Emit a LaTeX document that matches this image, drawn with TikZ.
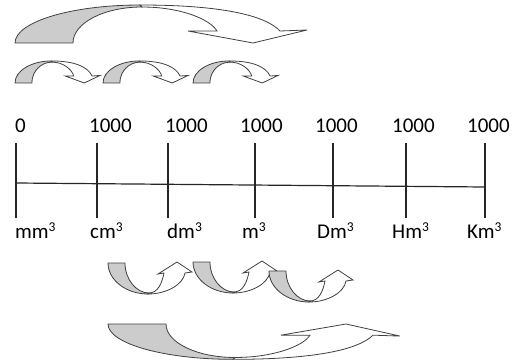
\documentclass[tikz,border=0pt]{standalone}
\usepackage{fontspec}
\setmainfont{Carlito}
\tikzset{
  arrowline/.style={draw=black!75, line width=0.8pt, line join=miter},
  greypart/.style={arrowline, fill=gray!40},
  whitepart/.style={arrowline, fill=white},
  tickline/.style={draw=black!85, line width=1.2pt},
  lbl/.style={font=\fontsize{21}{25}\selectfont, inner sep=0pt, anchor=base west, text=black}
}
\newcommand{\cubx}{\raisebox{0.3em}{\fontsize{13.5}{14}\selectfont 3}}
% curved arrow, template in picture units (y downward)
\newcommand{\crvArrowBig}{%
  \path[greypart] (0,0) -- (58,0) .. controls (58,-20) and (89,-36) .. (127,-36)
     -- (125,-38) .. controls (56,-38) and (0,-21) .. (0,0) -- cycle;
  \path[whitepart] (125,-38) .. controls (205,-38) and (250,-28) .. (265,-12)
     -- (292,-13) -- (238,0) -- (173,-12) -- (202,-12)
     .. controls (195,-24) and (165,-36) .. (127,-36) -- cycle;
}
\newcommand{\crvArrowU}{%
  \path[greypart] (0,0) -- (17,0) .. controls (17,16) and (28,30) .. (41,30)
     -- (40,31) .. controls (18,31) and (0,17) .. (0,0) -- cycle;
  \path[whitepart] (40,31) .. controls (58,31) and (75,22) .. (77,10)
     -- (84,9) -- (69,-1) -- (50,11) -- (56,10)
     .. controls (54,20) and (50,30) .. (41,30) -- cycle;
}
\begin{document}
\begin{tikzpicture}[x=1pt,y=-1pt]
\useasboundingbox (0,0) rectangle (517,359);

% top arrows
\begin{scope}[shift={(15,43)}]\crvArrowBig\end{scope}
\begin{scope}[shift={(15,83)},xscale=0.291,yscale=0.58]\crvArrowBig\end{scope}
\begin{scope}[shift={(103,83)},xscale=0.291,yscale=0.58]\crvArrowBig\end{scope}
\begin{scope}[shift={(193,83)},xscale=0.291,yscale=0.58]\crvArrowBig\end{scope}

% number line
\coordinate (h0) at (16,183);
\coordinate (h6) at (485,187);
\draw[tickline] (h0) -- (h6);
\foreach \i/\x in {0/16,1/97,2/168,3/255,4/333,5/406,6/485}{
  \coordinate (t\i) at (\x,143);
  \coordinate (b\i) at (\x,218);
  \draw[tickline] (t\i) -- (b\i);
}

% top labels
\node[lbl] (n0) at (15,132) {0};
\node[lbl] (n1) at (89,132) {1000};
\node[lbl] (n2) at (165,132) {1000};
\node[lbl] (n3) at (240,132) {1000};
\node[lbl] (n4) at (315,132) {1000};
\node[lbl] (n5) at (392,132) {1000};
\node[lbl] (n6) at (467,132) {1000};

% bottom labels
\node[lbl] (u0) at (15,238) {mm\cubx};
\node[lbl] (u1) at (90,238) {cm\cubx};
\node[lbl] (u2) at (167,238) {dm\cubx};
\node[lbl] (u3) at (242,238) {m\cubx};
\node[lbl] (u4) at (317,238) {Dm\cubx};
\node[lbl] (u5) at (392,238) {Hm\cubx};
\node[lbl] (u6) at (467,238) {Km\cubx};

% bottom arrows
\begin{scope}[shift={(108,263)}]\crvArrowU\end{scope}
\begin{scope}[shift={(193,262)}]\crvArrowU\end{scope}
\begin{scope}[shift={(269,271)}]\crvArrowU\end{scope}
\begin{scope}[shift={(108,324)},yscale=-0.93]\crvArrowBig\end{scope}
\end{tikzpicture}
\end{document}
